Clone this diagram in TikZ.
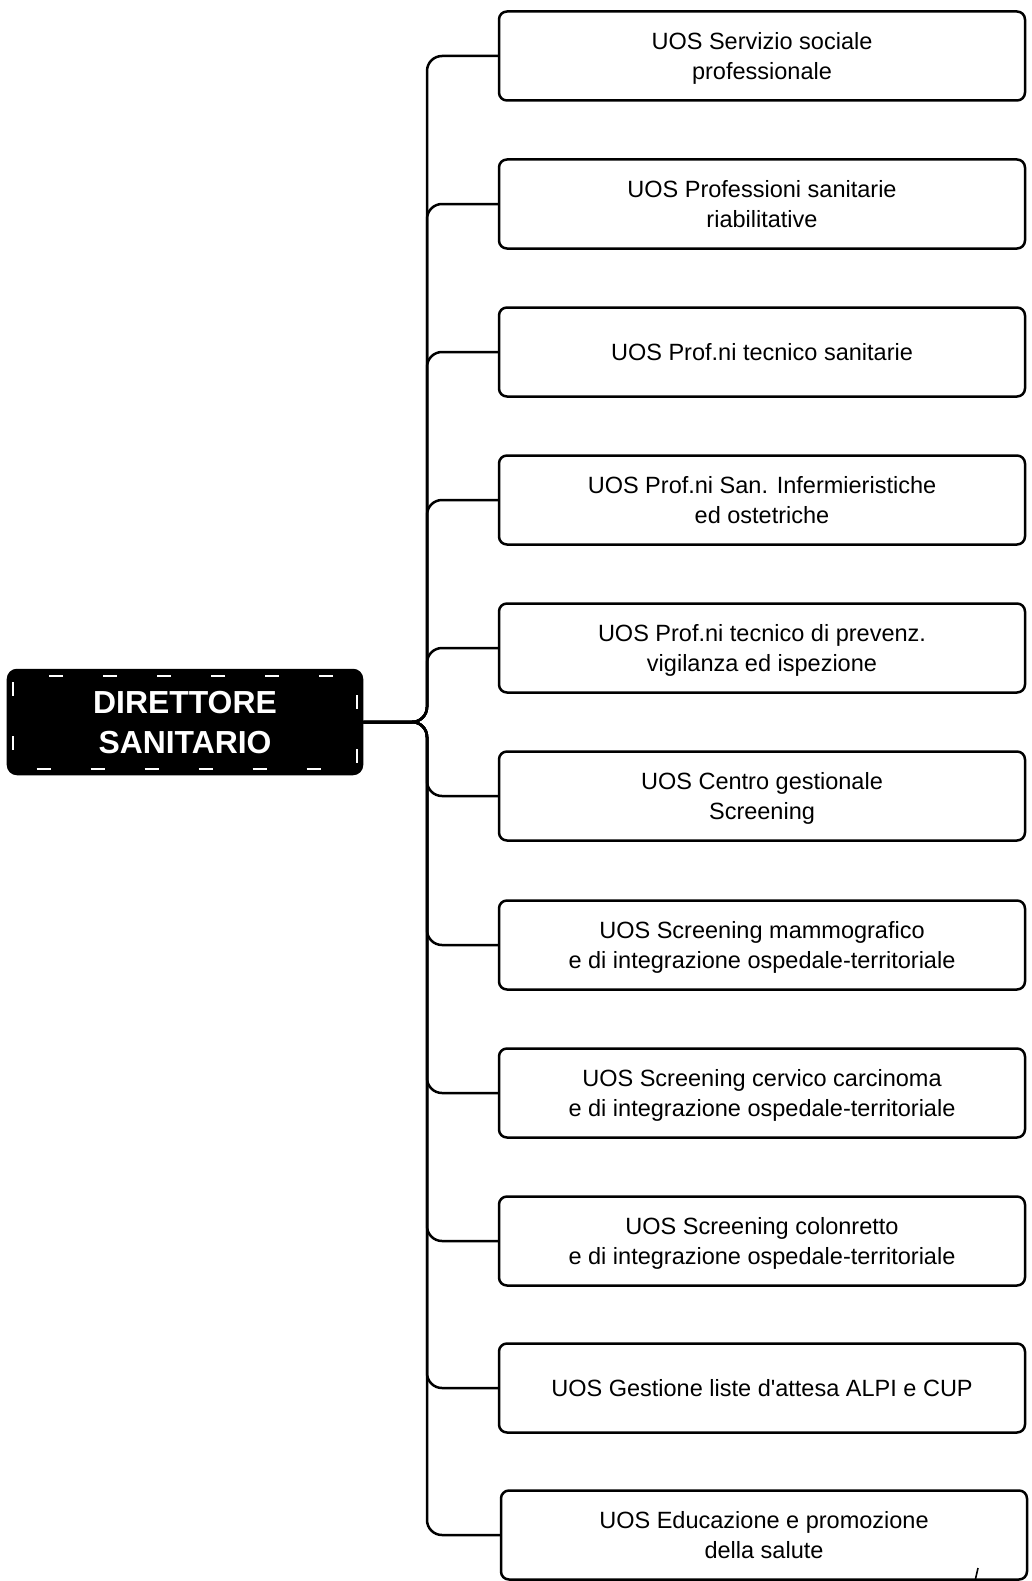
\documentclass[tikz,border=0pt]{standalone}
\usepackage{fontspec}
\setmainfont{Liberation Sans}[Ligatures=TeXOff]
\begin{document}
\begin{tikzpicture}[x=1bp,y=-1bp,
  unit/.style={draw=black, line width=2.5bp, rounded corners=8bp, fill=white,
    minimum width=526bp, minimum height=89bp, inner sep=0pt, align=center,
    text depth=0pt, font=\fontsize{23.6}{29.3}\selectfont},
  head/.style={draw=black, line width=2.5bp, rounded corners=9bp, fill=black,
    text=white, minimum width=354bp, minimum height=104bp, inner sep=0pt,
    align=center, text depth=0pt, font=\fontsize{32}{40}\selectfont\bfseries},
  link/.style={line width=2.5bp, rounded corners=15bp}]
\useasboundingbox (0,0) rectangle (1031,1581);

% head of the department
\node[head] (dir) at (185,722) {DIRETTORE\\SANITARIO};
\draw[white, line width=1.5bp, dash pattern=on 14bp off 40bp, rounded corners=6bp]
  (13,676) rectangle (357,769);

% operating units
\node[unit] (u1)  at (762,56)   {UOS Servizio sociale\\professionale};
\node[unit] (u2)  at (762,204)  {UOS Professioni sanitarie\\riabilitative};
\node[unit] (u3)  at (762,352)  {UOS Prof.ni tecnico sanitarie};
\node[unit] (u4)  at (762,500)  {UOS Prof.ni San. Infermieristiche\\ed ostetriche};
\node[unit] (u5)  at (762,648)  {UOS Prof.ni tecnico di prevenz.\\vigilanza ed ispezione};
\node[unit] (u6)  at (762,796)  {UOS Centro gestionale\\Screening};
\node[unit] (u7)  at (762,945)  {UOS Screening mammografico\\e di integrazione ospedale-territoriale};
\node[unit] (u8)  at (762,1093) {UOS Screening cervico carcinoma\\e di integrazione ospedale-territoriale};
\node[unit] (u9)  at (762,1241) {UOS Screening colonretto\\e di integrazione ospedale-territoriale};
\node[unit] (u10) at (762,1388) {UOS Gestione liste d'attesa ALPI e CUP};
\node[unit] (u11) at (764,1535) {UOS Educazione e promozione\\della salute};

% connectors from the head to each unit
\coordinate (trunk) at (427,722);
\foreach \u in {u1,u2,u3,u4,u5,u6,u7,u8,u9,u10,u11}
  \draw[link] (dir.east) -- (trunk) |- (\u.west);

% pen mark
\draw[line width=1.6bp] (978,1568) -- (975,1581);
\end{tikzpicture}
\end{document}
